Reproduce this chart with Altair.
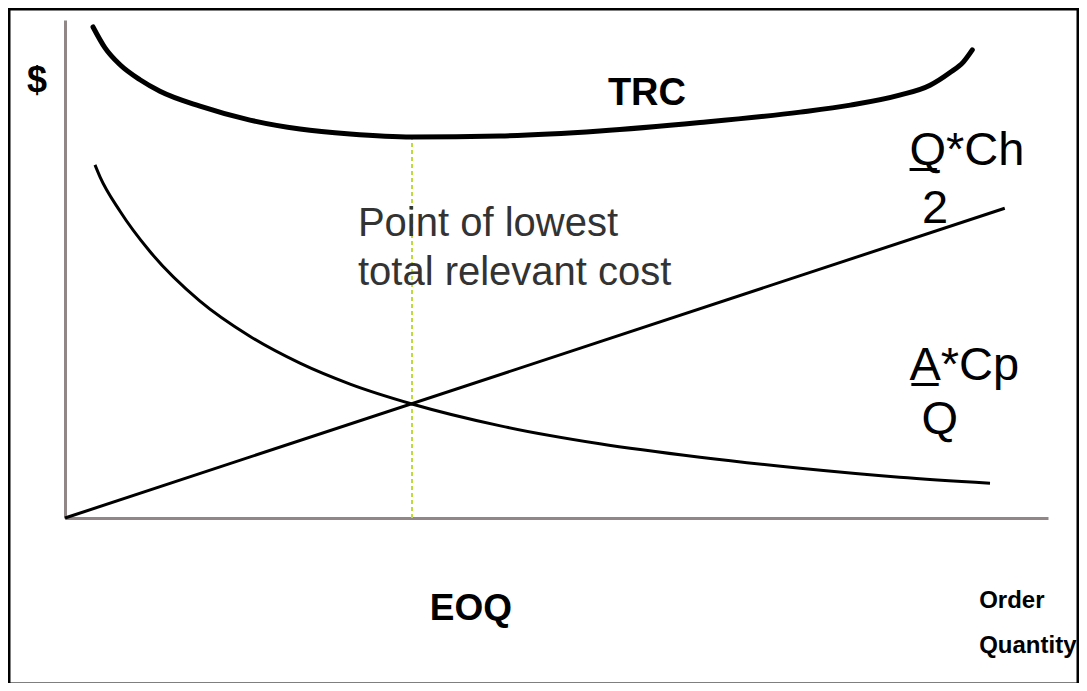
import altair as alt
import pandas as pd

# ---- data (x: 0-100 order quantity, y: 0-100 $) ----
trc_x = [2.85, 4.07, 5.6, 7.63, 9.66, 13.73, 18.82, 23.9, 29.0, 35.3, 44.25, 54.4, 64.6, 74.8, 79.9, 84.9, 88.0, 90.0, 91.4, 92.3]
trc_y = [98.6, 94.4, 91.0, 88.0, 85.7, 82.7, 79.9, 78.1, 77.1, 76.5, 76.7, 77.7, 79.4, 81.5, 82.9, 84.9, 86.9, 89.4, 91.6, 94.0]

order_x = [3.05, 3.56, 5.6, 8.6, 13.7, 18.8, 23.9, 29.0, 35.3, 44.3, 54.4, 64.6, 74.8, 84.9, 94.1]
order_y = [70.9, 68.5, 61.6, 53.6, 43.6, 36.5, 31.1, 26.9, 22.9, 18.5, 14.9, 12.2, 10.0, 8.2, 7.0]

hold_x = [0.0, 95.6]
hold_y = [0.0, 62.2]

eoq_x = 35.3
trc_min = 76.5

# annotation labels: text, x, y
labels_bold_center = [("$", -2.85, 85.5, 36), ("TRC", 59.2, 82.9, 38), ("EOQ", 41.3, -20.5, 37)]
labels_note = [("Point of lowest", 29.8, 56.6), ("total relevant cost", 29.8, 46.8)]
labels_formula_left = [("Q\u0332*Ch", 85.9, 70.9), ("A\u0332*Cp", 85.9, 27.7)]
labels_formula_center = [("2", 88.5, 59.2), ("Q", 89.0, 16.9)]
labels_axis = [("Order", 93.0, -18.1), ("Quantity", 93.0, -27.2)]

FONT = "Liberation Sans, Arial, sans-serif"

xs = alt.Scale(domain=[0, 100], nice=False, zero=False)
ys = alt.Scale(domain=[0, 100], nice=False, zero=False)
AX = dict(title=None, labels=False, ticks=False, grid=False, domainColor="#918787", domainWidth=3)
X = lambda f="x": alt.X(f"{f}:Q", scale=xs, axis=alt.Axis(**AX))
Y = lambda f="y": alt.Y(f"{f}:Q", scale=ys, axis=alt.Axis(**AX))

trc_df = pd.DataFrame({"x": trc_x, "y": trc_y})
ord_df = pd.DataFrame({"x": order_x, "y": order_y})
hold_df = pd.DataFrame({"x": hold_x, "y": hold_y})

guide = alt.Chart(pd.DataFrame({"x": [eoq_x], "y": [0], "y2": [trc_min]})).mark_rule(
    color="#bcdc3c", strokeWidth=2, strokeDash=[4, 3]
).encode(x=X(), y=Y(), y2="y2:Q")

trc = alt.Chart(trc_df).mark_line(color="black", strokeWidth=5, interpolate="monotone", strokeCap="round").encode(
    x=X(), y=Y(), order="x:Q")
ordc = alt.Chart(ord_df).mark_line(color="black", strokeWidth=3, interpolate="monotone").encode(
    x=X(), y=Y(), order="x:Q")
hold = alt.Chart(hold_df).mark_line(color="black", strokeWidth=3).encode(x=X(), y=Y())

layers = [guide, ordc, hold, trc]

for t, x, y, s in labels_bold_center:
    layers.append(alt.Chart(pd.DataFrame({"t": [t], "x": [x], "y": [y]})).mark_text(
        font=FONT, fontWeight="bold", fontSize=s, align="center", baseline="alphabetic", color="black"
    ).encode(x=X(), y=Y(), text="t:N"))

note_df = pd.DataFrame(labels_note, columns=["t", "x", "y"])
layers.append(alt.Chart(note_df).mark_text(
    font=FONT, fontSize=40, align="left", baseline="alphabetic", color="#333333"
).encode(x=X(), y=Y(), text="t:N"))

fl_df = pd.DataFrame(labels_formula_left, columns=["t", "x", "y"])
layers.append(alt.Chart(fl_df).mark_text(
    font=FONT, fontSize=47, align="left", baseline="alphabetic", color="black"
).encode(x=X(), y=Y(), text="t:N"))

fc_df = pd.DataFrame(labels_formula_center, columns=["t", "x", "y"])
layers.append(alt.Chart(fc_df).mark_text(
    font=FONT, fontSize=47, align="center", baseline="alphabetic", color="black"
).encode(x=X(), y=Y(), text="t:N"))

ax_df = pd.DataFrame(labels_axis, columns=["t", "x", "y"])
layers.append(alt.Chart(ax_df).mark_text(
    font=FONT, fontWeight="bold", fontSize=24, align="left", baseline="alphabetic", color="black"
).encode(x=X(), y=Y(), text="t:N"))

frame = alt.Chart(pd.DataFrame({"a": [0]})).mark_rect(
    fill=None, stroke="black", strokeWidth=3
).encode(x=alt.value(-56), x2=alt.value(1013), y=alt.value(-11), y2=alt.value(664))
layers.append(frame)

chart = alt.layer(*layers).properties(
    width=983, height=498,
    autosize=alt.AutoSizeParams(type="none"),
    padding={"left": 57, "top": 12, "right": 31, "bottom": 165},
).configure(background="white", view=alt.ViewConfig(strokeWidth=0, stroke="transparent"))

chart.save("out.html", embed_options={"renderer": "svg", "actions": False})
